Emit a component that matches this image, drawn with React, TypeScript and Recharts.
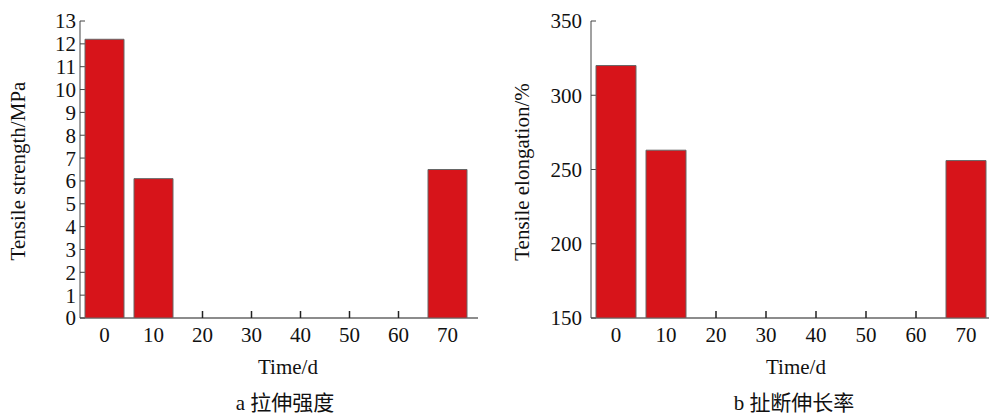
import { BarChart, Bar, XAxis, YAxis } from "recharts"

const days = ["0", "10", "20", "30", "40", "50", "60", "70"]
const strength = [12.2, 6.1, null, null, null, null, null, 6.5]
const elongation = [320, 263, null, null, null, null, null, 256]
const strengthTicks = [0, 1, 2, 3, 4, 5, 6, 7, 8, 9, 10, 11, 12, 13]
const elongationTicks = [150, 200, 250, 300, 350]

const font = "'Liberation Serif', 'Times New Roman', 'Noto Sans CJK SC', serif"
const axisColor = "#444"
const barFill = "#d7141a"
const fs = 21

const strengthData = days.map((d, i) => ({ day: d, value: strength[i] }))
const elongationData = days.map((d, i) => ({ day: d, value: elongation[i] }))

const tickText = { fontSize: fs, fontFamily: font, fill: "#111" }

type PanelProps = {
  data: any[]
  domain: [number, number]
  ticks: number[]
  marginLeft: number
  marginRight: number
  barSize: number
  padRight: number
  labelGap: number
  barsOnly?: boolean
}

function Panel(props: PanelProps) {
  const b = props.barsOnly
  return (
    <BarChart
      width={500}
      height={414}
      data={props.data}
      margin={{ top: 21, right: props.marginRight, bottom: 66, left: props.marginLeft }}
      barCategoryGap={0}
    >
      <XAxis
        dataKey="day"
        height={30}
        tickSize={-7}
        tickMargin={16}
        tick={b ? false : tickText}
        axisLine={b ? false : { stroke: "#666", strokeWidth: 1.5 }}
        tickLine={b ? false : { stroke: "#222", strokeWidth: 1.5 }}
        interval={0}
        padding={{ left: 0, right: props.padRight }}
      />
      <XAxis xAxisId="top" orientation="top" dataKey="day" height={0} tick={false} tickLine={false} axisLine={b ? false : { stroke: "#222" }} />
      <YAxis
        width={40}
        domain={props.domain}
        ticks={props.ticks}
        interval={0}
        allowDataOverflow
        tickSize={-5}
        tickMargin={5 + props.labelGap}
        tick={b ? false : tickText}
        tickLine={b ? false : { stroke: axisColor }}
        axisLine={b ? false : { stroke: axisColor }}
      />
      <YAxis yAxisId="right" orientation="right" width={0} tick={false} tickLine={false} axisLine={b ? false : { stroke: axisColor }} />
      {b && <Bar dataKey="value" fill={barFill} stroke="#666" strokeWidth={1} barSize={props.barSize} isAnimationActive={false} />}
      {!b && <Bar dataKey="value" fill="none" stroke="none" barSize={props.barSize} isAnimationActive={false} />}
    </BarChart>
  )
}

const textStyle = { fontFamily: font, fontSize: fs, fill: "#111" }

const leftProps = { data: strengthData, domain: [0, 13] as [number, number], ticks: strengthTicks, marginLeft: 40, marginRight: 22, barSize: 39, padRight: 6, labelGap: 4 }
const rightProps = { data: elongationData, domain: [150, 350] as [number, number], ticks: elongationTicks, marginLeft: 51, marginRight: 9, barSize: 40, padRight: 0, labelGap: 9 }

export default function App() {
  return (
    <div style={{ position: "fixed", left: 0, top: 0, width: 989, height: 414, overflow: "hidden", background: "#fff" }}>
      <div style={{ position: "absolute", left: 0, top: 0 }}>
        <Panel {...leftProps} />
      </div>
      <div style={{ position: "absolute", left: 0, top: 0 }}>
        <Panel {...leftProps} barsOnly />
      </div>
      <div style={{ position: "absolute", left: 500, top: 0 }}>
        <Panel {...rightProps} />
      </div>
      <div style={{ position: "absolute", left: 500, top: 0 }}>
        <Panel {...rightProps} barsOnly />
      </div>
      <svg width={989} height={414} style={{ position: "absolute", left: 0, top: 0, pointerEvents: "none" }}>
        <text {...textStyle} x={25} y={171} textAnchor="middle" transform="rotate(-90 25 171)">
          Tensile strength/MPa
        </text>
        <text {...textStyle} x={288} y={374} textAnchor="middle">
          Time/d
        </text>
        <text {...textStyle} x={285} y={410} textAnchor="middle">
          a 拉伸强度
        </text>
        <text {...textStyle} x={529} y={172} textAnchor="middle" transform="rotate(-90 529 172)">
          Tensile elongation/%
        </text>
        <text {...textStyle} x={796} y={374} textAnchor="middle">
          Time/d
        </text>
        <text {...textStyle} x={794} y={410} textAnchor="middle">
          b 扯断伸长率
        </text>
      </svg>
    </div>
  )
}
